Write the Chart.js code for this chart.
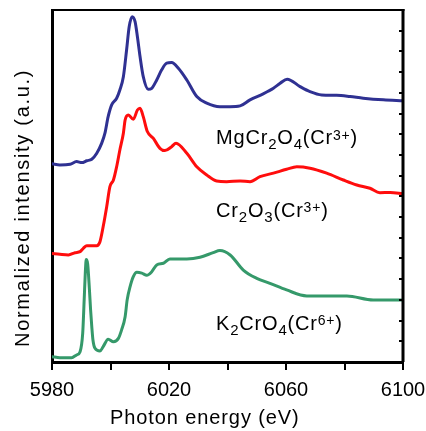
<!DOCTYPE html>
<html>
<head>
<meta charset="utf-8">
<script src="https://cdn.jsdelivr.net/npm/chart.js@4.4.0/dist/chart.umd.min.js"></script>
<style>
	html, body { margin: 0; padding: 0; background: #fff; }
</style>
</head>
<body>
<canvas id="xanes" width="426" height="431"></canvas>
<script>
	// photon energy (eV) / normalized intensity (curves are offset vertically)
	var energyMg	=	[5980.0, 5982.7, 5986.2, 5988.4, 5990.2, 5991.9, 5993.6, 5995.3, 5997.0, 5998.1, 5999.2, 6000.4, 6002.1, 6003.2, 6004.4, 6005.5, 6006.4, 6007.4, 6008.4, 6009.2, 6010.1, 6011.2, 6012.9, 6014.1, 6015.8, 6017.5, 6019.2, 6020.9, 6023.2, 6026.1, 6029.5, 6032.9, 6037.4, 6040.9, 6044.3, 6047.7, 6052.2, 6055.7, 6058.0, 6060.4, 6064.8, 6068.2, 6072.2, 6077.3, 6081.9, 6086.4, 6093.3, 6100.0];
	var intensityMg	=	[9.57, 9.52, 9.55, 9.68, 9.63, 9.72, 9.79, 10.08, 10.57, 11.05, 11.85, 12.42, 12.74, 13.14, 13.78, 15.07, 16.20, 16.68, 16.44, 15.71, 14.75, 13.78, 13.17, 13.22, 13.62, 14.11, 14.43, 14.46, 14.19, 13.62, 12.82, 12.50, 12.33, 12.33, 12.37, 12.66, 12.95, 13.22, 13.46, 13.66, 13.30, 13.06, 12.90, 12.88, 12.82, 12.74, 12.66, 12.62];

	var energyCr	=	[5980.0, 5982.7, 5985.6, 5987.9, 5989.6, 5990.7, 5991.9, 5995.3, 5996.4, 5997.5, 5998.7, 5999.8, 6001.0, 6002.1, 6003.2, 6004.4, 6005.0, 6006.1, 6007.8, 6009.2, 6010.1, 6011.2, 6012.6, 6014.6, 6016.9, 6018.6, 6020.9, 6022.4, 6026.1, 6029.5, 6032.9, 6036.3, 6039.7, 6044.3, 6047.7, 6051.1, 6055.7, 6060.2, 6063.7, 6068.2, 6073.9, 6079.6, 6084.2, 6088.7, 6092.1, 6095.6, 6100.0];
	var intensityCr	=	[5.24, 5.20, 5.17, 5.28, 5.33, 5.49, 5.62, 5.62, 5.81, 6.54, 7.50, 8.47, 8.79, 9.43, 10.24, 11.05, 11.69, 11.93, 11.72, 12.17, 12.26, 11.85, 11.13, 10.81, 10.32, 10.21, 10.40, 10.57, 10.08, 9.43, 9.03, 8.74, 8.71, 8.74, 8.71, 8.95, 9.12, 9.31, 9.43, 9.36, 9.12, 8.79, 8.55, 8.39, 8.18, 8.19, 8.12];

	var energyK	=	[5980.0, 5982.7, 5986.7, 5988.4, 5989.6, 5990.5, 5991.0, 5991.4, 5991.7, 5992.2, 5992.8, 5993.2, 5993.6, 5994.0, 5994.7, 5996.4, 5997.5, 5999.2, 6001.0, 6002.7, 6003.8, 6005.0, 6005.7, 6006.7, 6007.8, 6009.0, 6010.7, 6012.4, 6014.1, 6015.8, 6018.1, 6020.3, 6023.8, 6026.1, 6030.6, 6035.1, 6037.4, 6040.9, 6045.4, 6050.0, 6054.5, 6060.2, 6067.1, 6080.8, 6089.8, 6100.0];
	var intensityK	=	[0.26, 0.21, 0.21, 0.34, 0.50, 1.39, 3.00, 4.35, 4.95, 4.73, 3.48, 2.51, 1.71, 1.06, 0.66, 0.53, 0.74, 1.10, 0.98, 1.14, 1.55, 2.19, 3.00, 3.64, 4.12, 4.33, 4.29, 4.19, 4.36, 4.69, 4.77, 4.98, 4.98, 4.98, 5.06, 5.28, 5.38, 5.17, 4.44, 4.04, 3.80, 3.48, 3.19, 3.19, 3.00, 3.00];

	var seriesNames	=	["MgCr_2O_4(Cr^{3+})", "Cr_2O_3(Cr^{3+})", "K_2CrO_4(Cr^{6+})"];
	var xTickLabels	=	[5980, 6020, 6060, 6100];

	var FONT	=	"'Liberation Sans', Arial, sans-serif";

	function toPoints(xs, ys){
		var pts = [];
		for (var i = 0; i < xs.length; i++) pts.push({x: xs[i], y: ys[i]});
		return pts;
	}

	// split "MgCr_2O_4(Cr^{3+})" into plain / sub / sup pieces
	function splitFormula(str){
		var parts = [], buf = "", i = 0;
		while (i < str.length) {
			var c = str[i];
			if (c == "_") {
				if (buf) { parts.push([buf, 0]); buf = ""; }
				parts.push([str[i+1], -1]);
				i += 2;
			} else if (c == "^") {
				if (buf) { parts.push([buf, 0]); buf = ""; }
				var end = str.indexOf("}", i);
				parts.push([str.substring(i+2, end), 1]);
				i = end + 1;
			} else {
				buf += c;
				i++;
			}
		}
		if (buf) parts.push([buf, 0]);
		return parts;
	}

	var framePlugin = {
		id: "frame",
		afterDraw: function(chart, args, opts){
			var ctx = chart.ctx, a = chart.chartArea;
			var xs = chart.scales.x, ys = chart.scales.y;
			ctx.save();
			ctx.strokeStyle = "#000";
			ctx.lineWidth = 2;
			ctx.beginPath(); ctx.moveTo(a.left, a.top); ctx.lineTo(a.right + 1.5, a.top); ctx.stroke();
			ctx.lineWidth = 3;
			ctx.beginPath(); ctx.moveTo(a.right, a.top - 1); ctx.lineTo(a.right, a.bottom); ctx.stroke();
			// small inward ticks on the right axis
			ctx.lineWidth = 2;
			ys.ticks.forEach(function(t){
				if (t.value <= ys.min || t.value >= ys.max) return;
				var py = Math.round(ys.getPixelForValue(t.value));
				ctx.beginPath(); ctx.moveTo(a.right, py); ctx.lineTo(a.right - 4, py); ctx.stroke();
			});

			ctx.fillStyle = "#000";
			ctx.textBaseline = "alphabetic";
			ctx.textAlign = "left";

			// x title
			ctx.font = "20px " + FONT;
			ctx.letterSpacing = "0.9px";
			ctx.fillText("Photon energy (eV)", opts.xTitle[0], opts.xTitle[1]);

			// y title
			ctx.save();
			ctx.translate(opts.yTitle[0], opts.yTitle[1]);
			ctx.rotate(-Math.PI / 2);
			ctx.letterSpacing = "1.7px";
			ctx.fillText("Normalized intensity (a.u.)", 0, 0);
			ctx.restore();

			// curve names
			ctx.letterSpacing = "0.8px";
			opts.names.forEach(function(n, k){
				var px = xs.getPixelForValue(n.x);
				var py = ys.getPixelForValue(n.y);
				splitFormula(seriesNames[k]).forEach(function(p){
					var size = 20, shift = 0;
					if (p[1] == -1) { size = 15; shift = 5; }
					if (p[1] == 1) { size = 14; shift = -4.5; }
					ctx.font = size + "px " + FONT;
					ctx.fillText(p[0], px, py + shift);
					px += ctx.measureText(p[0]).width;
				});
			});
			ctx.restore();
		}
	};

	$ready();
	function $ready(){
		var lineColors = ["#2f3192", "#ff0d0d", "#35996a"];
		var allX = [energyMg, energyCr, energyK];
		var allY = [intensityMg, intensityCr, intensityK];
		var datasetsArry = [];
		for (var k = 0; k < 3; k++) {
			datasetsArry.push({
				label: seriesNames[k],
				data: toPoints(allX[k], allY[k]),
				borderColor: lineColors[k],
				borderWidth: 3,
				pointRadius: 0,
				fill: false,
				cubicInterpolationMode: "monotone",
				borderJoinStyle: "round",
				borderCapStyle: "round"
			});
		}

		var ctx = document.getElementById("xanes").getContext("2d");
		new Chart(ctx, {
			type: "line",
			data: { datasets: datasetsArry },
			plugins: [framePlugin],
			options: {
				responsive: false,
				animation: false,
				devicePixelRatio: 1,
				layout: { padding: { left: 0, right: 23, top: 10, bottom: 0 } },
				plugins: {
					legend: { display: false },
					tooltip: { enabled: false },
					frame: {
						xTitle: [110, 423.5],
						yTitle: [29, 347],
						names: [
							{ x: 6036.1, y: 10.52 },
							{ x: 6036.1, y: 7.02 },
							{ x: 6036.1, y: 1.55 }
						]
					}
				},
				scales: {
					x: {
						type: "linear",
						min: 5980,
						max: 6100,
						afterFit: function(scale){
							scale.height = 69;
							scale.paddingLeft = 0;
							scale.paddingRight = 0;
						},
						ticks: {
							stepSize: 20,
							autoSkip: false,
							maxRotation: 0,
							padding: 8,
							color: "#000",
							font: { family: FONT, size: 20 },
							callback: function(v){ return xTickLabels.indexOf(v) >= 0 ? String(v) : ""; }
						},
						grid: { drawOnChartArea: false, drawTicks: true, tickLength: 8, color: "#000", lineWidth: 2 },
						border: { display: true, color: "#000", width: 3 }
					},
					y: {
						min: 0,
						max: 17,
						afterFit: function(scale){ scale.width = 52; },
						ticks: { stepSize: 1, display: false },
						grid: { display: false },
						border: { display: true, color: "#000", width: 3 }
					}
				}
			}
		});
	}
</script>
</body>
</html>
